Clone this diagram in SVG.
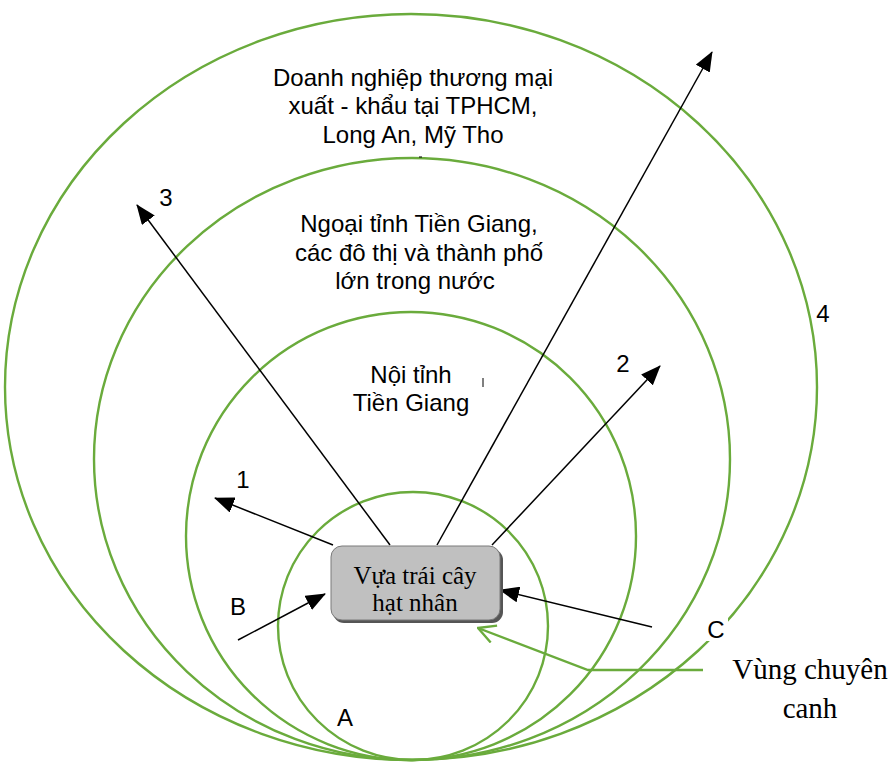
<svg xmlns="http://www.w3.org/2000/svg" width="892" height="762" viewBox="0 0 892 762">
<style>
.ring{fill:none;stroke:#6aab3c;stroke-width:2.4}
.arr{stroke:#000;stroke-width:1.5;fill:none;marker-end:url(#ah)}
.t{font-family:"Liberation Sans",Arial,sans-serif;font-size:24px;fill:#000;text-anchor:middle}
.s{font-family:"Liberation Serif","Times New Roman",serif;fill:#000;text-anchor:middle}
</style>
<defs>
<marker id="ah" viewBox="0 0 20 16" refX="19" refY="8" markerWidth="20" markerHeight="16" markerUnits="userSpaceOnUse" orient="auto">
<path d="M0,0 L20,8 L0,16 Z" fill="#000"/>
</marker>
<marker id="gh" viewBox="0 0 20 20" refX="19" refY="10" markerWidth="20" markerHeight="20" markerUnits="userSpaceOnUse" orient="auto">
<path d="M2,1 L19,10 L2,19" fill="none" stroke="#6aab3c" stroke-width="2.4"/>
</marker>
</defs>
<rect width="892" height="762" fill="#fff"/>
<g id="rings">
<ellipse id="ring4" class="ring" cx="411" cy="387" rx="406" ry="373"/>
<ellipse id="ring3" class="ring" cx="412" cy="459" rx="318" ry="301"/>
<ellipse id="ring2" class="ring" cx="411" cy="536" rx="225" ry="224"/>
<ellipse id="ring1" class="ring" cx="413" cy="626" rx="135" ry="134"/>
</g>
<g id="connectors">
<line class="arr" x1="333" y1="545" x2="215" y2="498"/>
<line class="arr" x1="390" y1="545" x2="137" y2="205"/>
<line class="arr" x1="437" y1="545" x2="712" y2="52"/>
<line class="arr" x1="492" y1="545" x2="660" y2="366"/>
<line class="arr" x1="238" y1="640" x2="325" y2="594"/>
<line class="arr" x1="652" y1="627" x2="500" y2="590"/>
<polyline points="703,670 588,670 478,628" fill="none" stroke="#6aab3c" stroke-width="2.4" marker-end="url(#gh)"/>
</g>
<g id="hub">
<rect x="333" y="549" width="170" height="74" rx="11" fill="#555"/>
<rect x="331" y="546" width="169" height="74" rx="11" fill="#c0c0c0" stroke="#7a7a7a" stroke-width="1"/>
<text class="s" x="415" y="584" font-size="25">Vựa trái cây</text>
<text class="s" x="415" y="611" font-size="25">hạt nhân</text>
</g>
<g id="labels">
<text class="t" x="413" y="86">Doanh nghiệp thương mại</text>
<text class="t" x="413" y="114">xuất - khẩu tại TPHCM,</text>
<text class="t" x="413" y="143">Long An, Mỹ Tho</text>
<text class="t" x="419" y="232">Ngoại tỉnh Tiền Giang,</text>
<text class="t" x="419" y="261">các đô thị và thành phố</text>
<text class="t" x="415" y="289">lớn trong nước</text>
<text class="t" x="411" y="383">Nội tỉnh</text>
<text class="t" x="411" y="411">Tiền Giang</text>
<line x1="483" y1="378" x2="483" y2="387" stroke="#000" stroke-width="1"/>
<line x1="419" y1="157" x2="422" y2="157" stroke="#000" stroke-width="1"/>
<text class="t" x="166" y="206">3</text>
<text class="t" x="623" y="372">2</text>
<text class="t" x="243" y="488">1</text>
<text class="t" x="823" y="322">4</text>
<text class="t" x="238" y="615">B</text>
<rect x="704" y="615" width="24" height="26" fill="#fff"/>
<text class="t" x="716" y="638">C</text>
<rect x="332" y="704" width="26" height="26" fill="#fff"/>
<text class="t" x="345" y="726">A</text>
<text class="s" x="810" y="679" font-size="29">Vùng chuyên</text>
<text class="s" x="810" y="718" font-size="29">canh</text>
</g>
</svg>
